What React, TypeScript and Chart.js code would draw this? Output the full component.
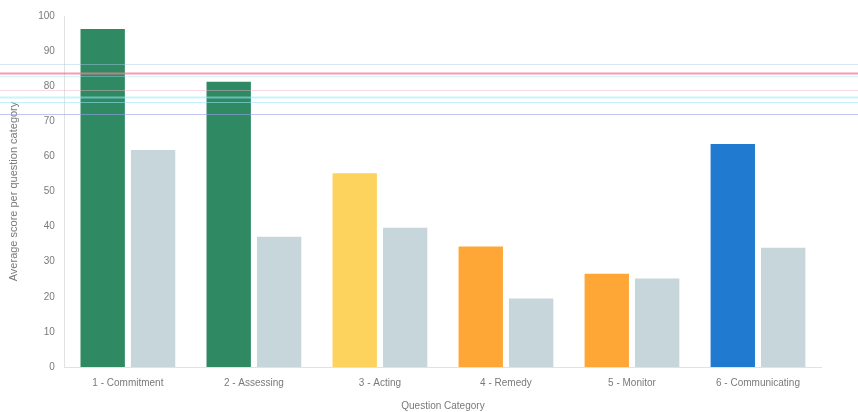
import React, { useEffect, useRef } from "react";
import { Chart, registerables } from "chart.js";

Chart.register(...registerables);

const categories = [
  "1 - Commitment",
  "2 - Assessing",
  "3 - Acting",
  "4 - Remedy",
  "5 - Monitor",
  "6 - Communicating",
];
const scoreValues = [96.3, 81.3, 55.2, 34.3, 26.6, 63.5];
const comparisonValues = [61.8, 37.1, 39.7, 19.5, 25.2, 34.0];
const scoreColors = ["#2f8a64", "#2f8a64", "#fdd35e", "#fea636", "#fea636", "#1f7ad0"];
const comparisonColor = "#c6d6da";
const yTicks = [0, 10, 20, 30, 40, 50, 60, 70, 80, 90, 100];
// faint horizontal scan artefacts visible in the reference (y-axis units)
const scanLineValues = [86.4, 83.9, 83.0, 79.0, 77.0, 75.4, 72.0];
const scanLineColors = [
  "rgba(170,200,230,0.45)",
  "rgba(245,120,150,0.75)",
  "rgba(150,230,245,0.4)",
  "rgba(240,170,200,0.45)",
  "rgba(150,235,250,0.55)",
  "rgba(150,230,250,0.55)",
  "rgba(150,160,230,0.6)",
];

const scanPlugin = {
  id: "scanLines",
  afterDraw(chart: any) {
    const { ctx, scales } = chart;
    const y = scales.y;
    ctx.save();
    scanLineValues.forEach((v, i) => {
      const py = Math.round(y.getPixelForValue(v)) + 0.5;
      ctx.strokeStyle = scanLineColors[i];
      ctx.lineWidth = i === 1 || i === 4 ? 2 : 1.2;
      ctx.beginPath();
      ctx.moveTo(0, py);
      ctx.lineTo(chart.width, py);
      ctx.stroke();
    });
    ctx.restore();
  },
};

export default function App() {
  const ref = useRef<HTMLCanvasElement>(null);
  useEffect(() => {
    document.body.style.margin = "0";
    const chart = new Chart(ref.current!, {
      type: "bar",
      data: {
        labels: categories,
        datasets: [
          {
            label: "Score",
            data: scoreValues,
            backgroundColor: scoreColors,
            categoryPercentage: 0.8,
            barPercentage: 0.88,
          },
          {
            label: "Comparison",
            data: comparisonValues,
            backgroundColor: comparisonColor,
            categoryPercentage: 0.8,
            barPercentage: 0.88,
          },
        ],
      },
      options: {
        responsive: false,
        animation: false,
        layout: { padding: { top: 7, right: 37, left: 7, bottom: 0 } },
        plugins: { legend: { display: false }, tooltip: { enabled: false } },
        scales: {
          x: {
            grid: { display: false, drawTicks: false },
            border: { color: "#dfe3e6" },
            ticks: {
              color: "#7a7a7a",
              font: { family: "Liberation Sans", size: 10 },
              padding: 10,
            },
            title: {
              display: true,
              text: "Question Category",
              color: "#7a7a7a",
              font: { family: "Liberation Sans", size: 10 },
              padding: { top: 1, bottom: 0 },
            },
          },
          y: {
            min: 0,
            max: 100,
            afterBuildTicks: (axis: any) => {
              axis.ticks = yTicks.map((v) => ({ value: v }));
            },
            grid: { display: false, drawTicks: false },
            border: { color: "#dfe3e6" },
            ticks: {
              color: "#7a7a7a",
              font: { family: "Liberation Sans", size: 10 },
              padding: 10,
            },
            title: {
              display: true,
              text: "Average score per question category",
              color: "#7a7a7a",
              font: { family: "Liberation Sans", size: 11 },
              padding: { top: 0, bottom: 8 },
            },
          },
        },
      },
      plugins: [scanPlugin],
    });
    return () => chart.destroy();
  }, []);
  return (
    <div style={{ width: 858, height: 412 }}>
      <canvas ref={ref} width={858} height={412} />
    </div>
  );
}
